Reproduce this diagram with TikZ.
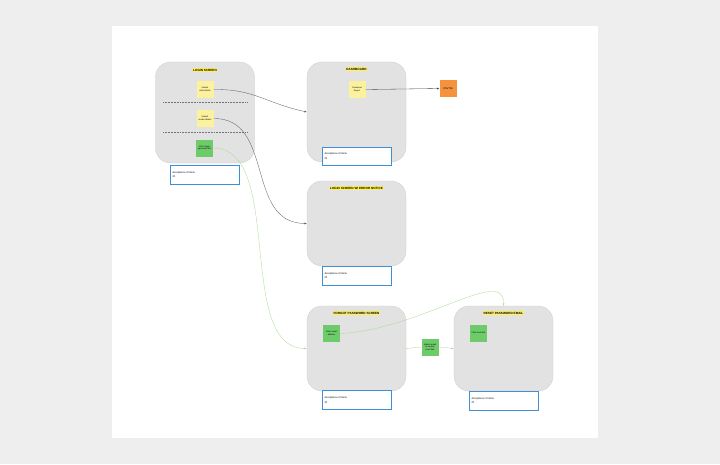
\documentclass[tikz,border=0pt]{standalone}
\usepackage{fontspec}
\setmainfont{Liberation Sans}
\usepackage{tikz}
\usetikzlibrary{arrows.meta,positioning}
\definecolor{pageGrey}{HTML}{EEEEEE}
\definecolor{frameGrey}{HTML}{E2E2E2}
\definecolor{frameLine}{HTML}{CCCCCC}
\definecolor{cardBlue}{HTML}{3D8FD6}
\definecolor{noteYellow}{HTML}{FCF29E}
\definecolor{titleYellow}{HTML}{FFF15C}
\definecolor{noteGreen}{HTML}{6DCB6A}
\definecolor{noteOrange}{HTML}{F5923E}
\definecolor{linkGreen}{HTML}{A9D98F}
\tikzset{
  frame/.style={draw=frameLine, fill=frameGrey, rounded corners=7.5mm, minimum width=49.5mm, minimum height=42.5mm, inner sep=0pt},
  title/.style={fill=titleYellow, font=\fontsize{4.4}{5}\selectfont\bfseries, inner sep=0.7pt},
  note/.style={minimum width=8.5mm, minimum height=8.5mm, inner sep=0.5pt, align=center, text width=7.5mm, font=\fontsize{3}{3.6}\selectfont},
  ynote/.style={note, fill=noteYellow},
  gnote/.style={note, fill=noteGreen},
  onote/.style={note, fill=noteOrange, font=\fontsize{3.8}{4.4}\selectfont},
  card/.style={draw=cardBlue, fill=white, line width=0.45pt, minimum width=34.5mm, minimum height=9.5mm, text width=32mm, align=left, inner sep=1mm, font=\fontsize{3.6}{6.5}\selectfont},
  darr/.style={-{Latex[length=1.2mm,width=0.9mm]}, draw=black!65, line width=0.45pt},
  garr/.style={-{Latex[length=1.2mm,width=0.9mm]}, draw=linkGreen, line width=0.45pt},
  gline/.style={draw=linkGreen, line width=0.45pt}
}
\begin{document}
\begin{tikzpicture}[x=0.5mm,y=-0.5mm]
\fill[pageGrey] (0,0) rectangle (720,464);
\fill[white] (112,26) rectangle (598,438);
% screens
\node[frame, minimum height=50.5mm] (login) at (205,112.5) {};
\node[frame, minimum height=50mm] (dash) at (356.5,112) {};
\node[frame] (error) at (356.5,223.5) {};
\node[frame] (forgot) at (356.5,348.5) {};
\node[frame] (reset) at (503.5,348.5) {};
\node[title] (loginT) at (205,70) {LOGIN SCREEN};
\node[title] (dashT) at (356.5,69) {DASHBOARD};
\node[title] (errorT) at (356.5,188) {LOGIN SCREEN W/ ERROR NOTICE};
\node[title] (forgotT) at (356.5,313) {FORGOT PASSWORD SCREEN};
\node[title] (resetT) at (503.5,313) {RESET PASSWORD EMAIL};
\draw[black!55, dashed, dash pattern=on 1.2pt off 1pt, line width=0.35pt] (163,102) -- (247,102);
\draw[black!55, dashed, dash pattern=on 1.2pt off 1pt, line width=0.35pt] (163,132) -- (247,132);
% sticky notes
\node[ynote] (valid) at (205,89.5) {Submit valid details};
\node[ynote] (invalid) at (205,118.5) {Submit invalid details};
\node[gnote] (forgotLink) at (204.5,148) {Click forgot password link};
\node[ynote] (report) at (357,89.5) {Download Report};
\node[onote] (csv) at (448,88.5) {CSV file};
\node[gnote] (email) at (331.5,333.5) {Enter email address};
\node[gnote] (send) at (430,347) {Submit email to receive reset link};
\node[gnote] (resetLink) at (478.5,333) {Click reset link};
% acceptance cards
\node[card] (loginC) at (204.5,174.5) {Acceptance Criteria\\\#\#};
\node[card, minimum height=9mm] (dashC) at (356.5,156) {Acceptance Criteria\\\#\#};
\node[card] (errorC) at (356.5,275.5) {Acceptance Criteria\\\#\#};
\node[card] (forgotC) at (356.5,400) {Acceptance Criteria\\\#\#};
\node[card] (resetC) at (503.5,400.5) {Acceptance Criteria\\\#\#};
% flows
\draw[darr] (valid.east) .. controls (255,89) and (265,103) .. (dash.west);
\draw[darr] (invalid.east) .. controls (275,118) and (245,223) .. (error.west);
\draw[garr] (forgotLink.east) .. controls (285,148) and (235,348) .. (forgot.west);
\draw[darr, draw=black!75] (report.east) -- (csv.west);
\draw[garr] (email.east) .. controls (420,330) and (505,265) .. (reset.north);
\draw[gline] (forgot.east) -- (send.west);
\draw[garr] (send.east) -- (reset.west);
\end{tikzpicture}
\end{document}
